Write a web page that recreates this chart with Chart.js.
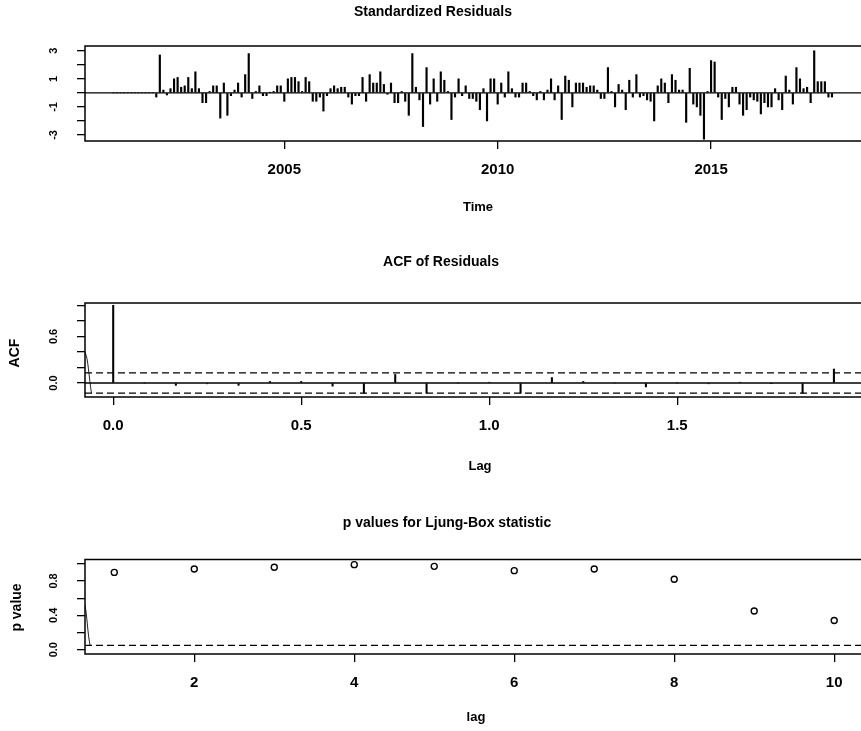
<!DOCTYPE html>
<html>
<head>
<meta charset="utf-8">
<script src="https://cdn.jsdelivr.net/npm/chart.js@4.4.1/dist/chart.umd.min.js"></script>
<style>
  html, body { margin: 0; padding: 0; background: #fff; overflow: hidden; }
  body { width: 861px; height: 731px; position: relative; }
  canvas { position: absolute; left: 0; display: block; }
</style>
</head>
<body>
<canvas id="resid" width="900" height="240" style="top:0"></canvas>
<canvas id="acf" width="900" height="250" style="top:240px"></canvas>
<canvas id="lb" width="900" height="241" style="top:490px"></canvas>
<script>
// Standardized residuals, monthly from Jan 2001 (first year is zero after differencing)
const residStart = 2001;
const residFreq = 12;
const residuals = [
  0, 0, 0, 0, 0, 0, 0, 0, 0, 0, 0, 0,
  -0.3, 2.7, 0.2, -0.15, 0.3, 1.0, 1.1, 0.4, 0.5, 1.1, 0.3, 1.5,
  0.3, -0.7, -0.7, 0.1, 0.5, 0.5, -1.8, 0.7, -1.6, -0.2, 0.2, 0.7,
  -0.3, 1.3, 2.8, -0.4, 0.1, 0.5, -0.2, -0.2, 0.05, 0.1, 0.5, 0.5,
  -0.6, 1.0, 1.1, 1.1, 0.8, 0.1, 1.1, 0.8, -0.6, -0.6, -0.3, -1.3,
  -0.2, 0.3, 0.5, 0.3, 0.4, 0.4, -0.3, -0.8, -0.2, -0.2, 1.1, -0.6,
  1.3, 0.7, 0.7, 1.5, 0.6, -0.1, 0.7, -0.7, -0.7, 0.1, -0.6, -1.6,
  2.8, 0.4, -0.5, -2.4, 1.8, -0.8, 1.0, -0.6, 1.5, 0.9, 0.1, -1.9,
  -0.3, 1.0, -0.2, 0.5, -0.4, -0.4, -0.6, -1.2, 0.3, -2.0, 1.0, 1.0,
  -0.8, 0.7, -0.3, 1.5, 0.3, -0.3, -0.3, 0.7, 0.7, 0.1, -0.2, -0.5,
  0.1, -0.5, 0.2, 1.0, -0.5, 0.5, -1.9, 1.2, 0.9, -1.0, 0.7, 0.7,
  0.7, 0.4, 0.5, 0.5, 0.2, -0.4, -0.4, 1.8, 0.1, -1.0, 0.6, 0.2,
  -1.2, 0.9, -0.3, 1.3, -0.3, -0.2, -0.5, -0.6, -2.0, 0.5, 1.0, 0.7,
  -0.7, 1.3, 0.9, 0.2, 0.2, -2.1, 1.75, -0.8, -1.0, -1.6, -3.3, 0.1,
  2.3, 2.2, -0.3, -1.9, -0.4, -1.0, 0.4, 0.4, -0.8, -1.6, -1.2, -0.3,
  -0.5, -0.6, -1.5, -0.7, -1.0, -1.0, 0.3, -0.5, -1.2, 1.2, 0.2, -0.8,
  1.8, 1.0, 0.3, 0.4, -0.7, 3.0, 0.8, 0.8, 0.8, -0.3, -0.3
];
const timeTicks = [2005, 2010, 2015];
const residTicks = [-3, -2, -1, 0, 1, 2, 3];
const residLabels = [-3, -1, 1, 3];

// ACF of residuals, lags 0..23 months
const acfValues = [1.0, 0.0, -0.03, -0.01, -0.03, 0.02, 0.02, -0.04, -0.13, 0.11, -0.13, 0.0,
  0.01, -0.13, 0.07, 0.02, 0.0, -0.05, 0.0, -0.01, 0.01, -0.005, -0.13, 0.18];
const acfBound = 0.13;
const lagTicks = [0, 0.5, 1, 1.5];
const acfTicks = [0, 0.2, 0.4, 0.6, 0.8, 1];
const acfLabels = [0, 0.6];
const acfEdgeX = [-0.075, -0.070, -0.066, -0.062, -0.058];
const acfEdgeY = [0.40, 0.32, 0.19, 0.02, -0.13];

// Ljung-Box p values
const lbLags = [1, 2, 3, 4, 5, 6, 7, 8, 9, 10];
const lbPvalues = [0.90, 0.94, 0.96, 0.99, 0.97, 0.92, 0.94, 0.82, 0.45, 0.34];
const lbLagTicks = [2, 4, 6, 8, 10];
const pTicks = [0, 0.2, 0.4, 0.6, 0.8, 1];
const pLabels = [0, 0.4, 0.8];
const pCutoff = 0.05;
const lbEdgeX = [0.634, 0.650, 0.663, 0.680, 0.697];
const lbEdgeY = [0.52, 0.42, 0.30, 0.15, 0.05];

Chart.defaults.font.family = '"Liberation Sans", Arial, sans-serif';
Chart.defaults.color = '#000';

const FONT = '"Liberation Sans", Arial, sans-serif';

// R-style frame, rotated y labels and titles
const rPlot = {
  id: 'rPlot',
  afterDraw(chart, args, opts) {
    const { ctx, chartArea: a } = chart;
    const ys = chart.scales.y;
    ctx.save();
    ctx.strokeStyle = '#000';
    ctx.lineWidth = 1.5;
    ctx.strokeRect(a.left, a.top, a.right - a.left, a.bottom - a.top);

    ctx.fillStyle = '#000';
    ctx.textAlign = 'center';
    ctx.textBaseline = 'middle';
    ctx.font = 'bold 11px ' + FONT;
    opts.yLabels.forEach(l => {
      ctx.save();
      ctx.translate(54, ys.getPixelForValue(l.v));
      ctx.rotate(-Math.PI / 2);
      ctx.fillText(l.t, 0, 0);
      ctx.restore();
    });

    opts.texts.forEach(t => {
      ctx.save();
      ctx.font = 'bold ' + t.size + 'px ' + FONT;
      ctx.translate(t.x, t.y);
      if (t.rot) ctx.rotate(-Math.PI / 2);
      ctx.fillText(t.text, 0, 0);
      ctx.restore();
    });
    ctx.restore();
  }
};

function xAxis(min, max, ticks, fmt) {
  return {
    type: 'linear', min, max, offset: false,
    afterBuildTicks: s => { s.ticks = ticks.map(v => ({ value: v })); },
    afterFit: s => { s.height = 40; },
    ticks: { font: { size: 15, weight: 'bold' }, color: '#000', padding: 12, maxRotation: 0, autoSkip: false, callback: fmt },
    grid: { display: true, offset: false, drawOnChartArea: false, drawTicks: true, tickLength: 8, color: '#000', lineWidth: 1.3 },
    border: { display: false }
  };
}

function yAxis(min, max, ticks) {
  return {
    type: 'linear', min, max,
    afterBuildTicks: s => { s.ticks = ticks.map(v => ({ value: v })); },
    afterFit: s => { s.width = 85; },
    ticks: { display: false },
    grid: { display: true, drawOnChartArea: false, drawTicks: true, tickLength: 8, color: '#000', lineWidth: 1.3 },
    border: { display: false }
  };
}

function hline(xMin, xMax, y, dash) {
  return {
    type: 'line', data: [{ x: xMin, y }, { x: xMax, y }],
    borderColor: '#000', borderWidth: dash ? 1.2 : 1.4, borderDash: dash ? [7, 4] : [],
    pointRadius: 0, fill: false
  };
}

function edgeTrace(xs, ys) {
  return {
    type: 'line', data: xs.map((x, i) => ({ x, y: ys[i] })),
    borderColor: '#222', borderWidth: 1, pointRadius: 0, fill: false, tension: 0.3
  };
}

const baseOptions = (padTop, padBottom) => ({
  responsive: false,
  animation: false,
  events: [],
  layout: { padding: { left: 0, top: padTop, right: 37, bottom: padBottom } }
});

// Panel 1: standardized residuals
const r1 = [2000.33, 2018.56];
new Chart(document.getElementById('resid'), {
  type: 'bar',
  data: {
    datasets: [
      hline(r1[0], r1[1], 0, false),
      {
        data: residuals.map((v, i) => ({ x: residStart + i / residFreq, y: v })),
        backgroundColor: '#000', barThickness: 1.5
      }
    ]
  },
  options: {
    ...baseOptions(46, 59),
    scales: {
      x: xAxis(r1[0], r1[1], timeTicks, v => String(v)),
      y: yAxis(-3.43, 3.34, residTicks)
    },
    plugins: {
      legend: { display: false }, tooltip: { enabled: false },
      rPlot: {
        yLabels: residLabels.map(v => ({ v, t: String(v) })),
        texts: [
          { text: 'Standardized Residuals', x: 433, y: 12, size: 14 },
          { text: 'Time', x: 478, y: 207, size: 13 }
        ]
      }
    }
  },
  plugins: [rPlot]
});

// Panel 2: ACF of residuals
const r2 = [-0.075, 1.994];
new Chart(document.getElementById('acf'), {
  type: 'bar',
  data: {
    datasets: [
      hline(r2[0], r2[1], 0, false),
      hline(r2[0], r2[1], acfBound, true),
      hline(r2[0], r2[1], -acfBound, true),
      edgeTrace(acfEdgeX, acfEdgeY),
      {
        data: acfValues.map((v, k) => ({ x: k / 12, y: v })),
        backgroundColor: '#000', barThickness: 1.4
      }
    ]
  },
  options: {
    ...baseOptions(63, 53),
    scales: {
      x: xAxis(r2[0], r2[1], lagTicks, v => v.toFixed(1)),
      y: yAxis(-0.18, 1.03, acfTicks)
    },
    plugins: {
      legend: { display: false }, tooltip: { enabled: false },
      rPlot: {
        yLabels: acfLabels.map(v => ({ v, t: v.toFixed(1) })),
        texts: [
          { text: 'ACF of Residuals', x: 441, y: 22, size: 14 },
          { text: 'Lag', x: 480, y: 226, size: 13 },
          { text: 'ACF', x: 15.5, y: 113, size: 14, rot: true }
        ]
      }
    }
  },
  plugins: [rPlot]
});

// Panel 3: Ljung-Box p values
const r3 = [0.634, 10.36];
new Chart(document.getElementById('lb'), {
  type: 'scatter',
  data: {
    datasets: [
      hline(r3[0], r3[1], pCutoff, true),
      edgeTrace(lbEdgeX, lbEdgeY),
      {
        data: lbLags.map((l, i) => ({ x: l, y: lbPvalues[i] })),
        pointStyle: 'circle', pointRadius: 3, borderColor: '#000', borderWidth: 1.4,
        backgroundColor: 'rgba(0,0,0,0)'
      }
    ]
  },
  options: {
    ...baseOptions(69.5, 37),
    scales: {
      x: xAxis(r3[0], r3[1], lbLagTicks, v => String(v)),
      y: yAxis(-0.05, 1.05, pTicks)
    },
    plugins: {
      legend: { display: false }, tooltip: { enabled: false },
      rPlot: {
        yLabels: pLabels.map(v => ({ v, t: v.toFixed(1) })),
        texts: [
          { text: 'p values for Ljung-Box statistic', x: 447, y: 33, size: 14 },
          { text: 'lag', x: 476, y: 227, size: 13 },
          { text: 'p value', x: 17, y: 117.5, size: 14, rot: true }
        ]
      }
    }
  },
  plugins: [rPlot]
});
</script>
</body>
</html>
